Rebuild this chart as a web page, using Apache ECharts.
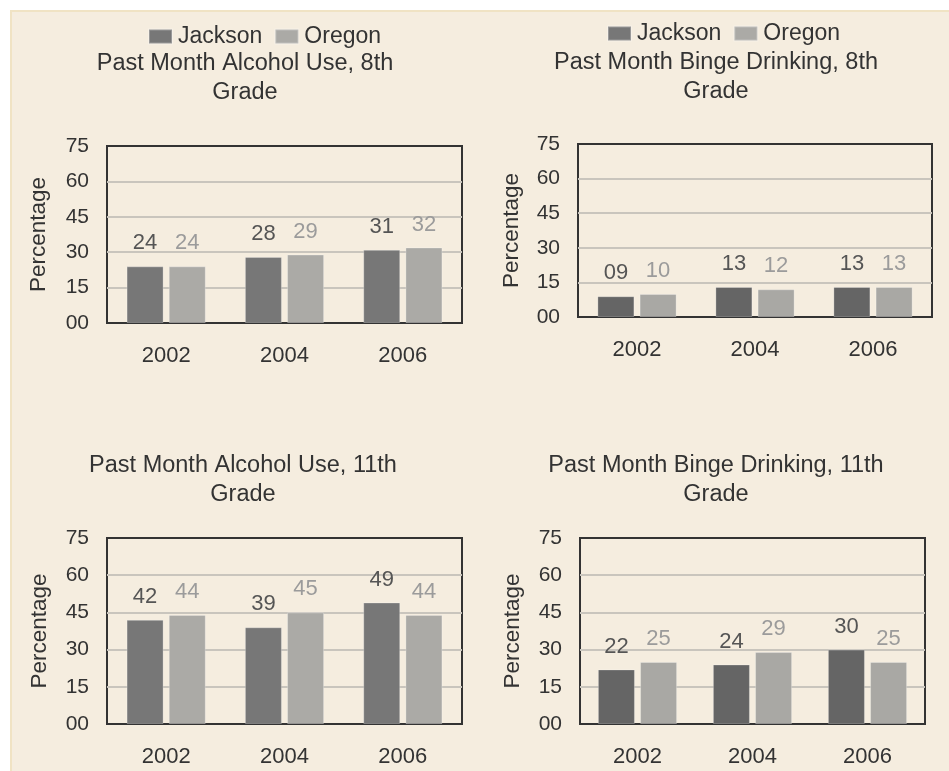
<!DOCTYPE html>
<html>
<head>
<meta charset="utf-8">
<script src="https://cdn.jsdelivr.net/npm/echarts@6/dist/echarts.min.js"></script>
<style>
  html, body { margin: 0; padding: 0; background: #ffffff; }
  #main {
    position: absolute; left: 10px; top: 10px; width: 939px; height: 761px;
    background: #f5eddf; box-shadow: inset 2px 2px 0 #f0e3c4;
  }
</style>
</head>
<body>
<div id="main"></div>
<script>
const years = ['2002', '2004', '2006'];
const legendNames = ['Jackson', 'Oregon'];
const yTicks = { min: 0, max: 75, interval: 15 };

const alcohol8Jackson = [24, 28, 31];
const alcohol8Oregon = [24, 29, 32];
const binge8Jackson = [9, 13, 13];
const binge8Oregon = [10, 12, 13];
const alcohol11Jackson = [42, 39, 49];
const alcohol11Oregon = [44, 45, 44];
const binge11Jackson = [22, 24, 30];
const binge11Oregon = [25, 29, 25];

const titles = [
    'Past Month Alcohol Use, 8th\nGrade',
    'Past Month Binge Drinking, 8th\nGrade',
    'Past Month Alcohol Use, 11th\nGrade',
    'Past Month Binge Drinking, 11th\nGrade'
];

const font = "'Liberation Sans', Arial, sans-serif";
const pad2 = v => (v < 10 ? '0' + v : '' + v);

// one entry per panel: plot box, title centre, bar colours
const panels = [
    { grid: { left: 97, top: 136, width: 355, height: 177 }, tx: 230, ty: 34, nameGap: 57,
      jackson: alcohol8Jackson, oregon: alcohol8Oregon, dark: '#777777', light: '#abaaa6' },
    { grid: { left: 568, top: 134, width: 354, height: 173 }, tx: 701, ty: 33, nameGap: 55,
      jackson: binge8Jackson, oregon: binge8Oregon, dark: '#656565', light: '#a9a8a4' },
    { grid: { left: 97, top: 528, width: 355, height: 186 }, tx: 228, ty: 436, nameGap: 56,
      jackson: alcohol11Jackson, oregon: alcohol11Oregon, dark: '#777777', light: '#abaaa6' },
    { grid: { left: 570, top: 528, width: 345, height: 186 }, tx: 701, ty: 436, nameGap: 56,
      jackson: binge11Jackson, oregon: binge11Oregon, dark: '#656565', light: '#a9a8a4' }
];

const grid = [], xAxis = [], yAxis = [], series = [], title = [];

panels.forEach((p, i) => {
    grid.push(Object.assign({
        show: true, borderColor: '#333333', borderWidth: 2, backgroundColor: 'transparent', containLabel: false
    }, p.grid));
    title.push({
        text: titles[i], left: p.tx, top: p.ty, textAlign: 'center',
        textStyle: { fontFamily: font, fontSize: 23.5, fontWeight: 'normal', color: '#333333', lineHeight: 29 }
    });
    xAxis.push({
        type: 'category', gridIndex: i, data: years,
        axisLine: { show: false }, axisTick: { show: false },
        axisLabel: { margin: 22, fontFamily: font, fontSize: 22, color: '#333333' }
    });
    yAxis.push({
        type: 'value', gridIndex: i, min: yTicks.min, max: yTicks.max, interval: yTicks.interval,
        name: 'Percentage', nameLocation: 'middle', nameGap: p.nameGap, nameRotate: 90,
        nameTextStyle: { fontFamily: font, fontSize: 22.5, color: '#333333' },
        axisLine: { show: false }, axisTick: { show: false },
        axisLabel: { margin: 18, fontFamily: font, fontSize: 21, color: '#333333', formatter: pad2 },
        splitLine: { showMinLine: false, showMaxLine: false, lineStyle: { color: '#c9c5bd', width: 2 } }
    });
    const labelBase = { show: true, position: 'top', distance: 12, fontFamily: font, fontSize: 22,
        formatter: d => pad2(d.value) };
    series.push({
        name: 'Jackson', type: 'bar', xAxisIndex: i, yAxisIndex: i, data: p.jackson,
        barWidth: 37, barGap: '14%',
        itemStyle: { color: p.dark, borderColor: 'rgba(255,255,255,0.25)', borderWidth: 1 },
        label: Object.assign({ color: '#555555' }, labelBase)
    });
    series.push({
        name: 'Oregon', type: 'bar', xAxisIndex: i, yAxisIndex: i, data: p.oregon,
        barWidth: 37, barGap: '14%',
        itemStyle: { color: p.light, borderColor: 'rgba(255,255,255,0.25)', borderWidth: 1 },
        label: Object.assign({ color: '#9b9b9b' }, labelBase)
    });
});

const legendStyle = {
    data: legendNames, icon: 'rect', itemWidth: 23, itemHeight: 14, itemGap: 12,
    textStyle: { fontFamily: font, fontSize: 23, color: '#333333', padding: [0, 0, 0, 1] },
    selectedMode: false
};

const option = {
    animation: false,
    backgroundColor: 'transparent',
    title: title,
    legend: [
        Object.assign({ left: 133, top: 10 }, legendStyle),
        Object.assign({ left: 592, top: 7 }, legendStyle)
    ],
    grid: grid,
    xAxis: xAxis,
    yAxis: yAxis,
    series: series
};

const myChart = echarts.init(document.getElementById('main'));
myChart.setOption(option);
</script>
</body>
</html>
